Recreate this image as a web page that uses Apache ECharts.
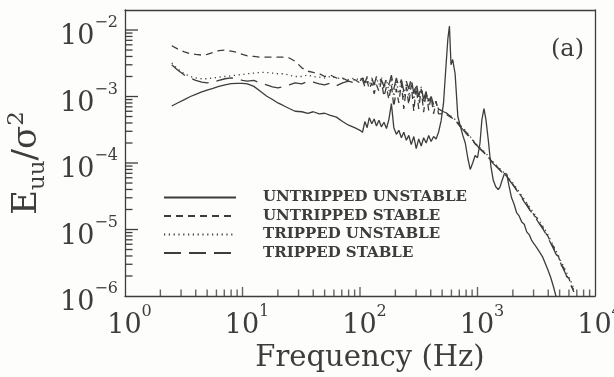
<!DOCTYPE html>
<html>
<head>
<meta charset="utf-8">
<script src="https://cdn.jsdelivr.net/npm/echarts@6/dist/echarts.min.js"></script>
<style>
  html, body { margin: 0; padding: 0; background: #fdfdfc; }
  #chart { width: 614px; height: 377px; }
</style>
</head>
<body>
<div id="chart"></div>
<script>
// Frequency bins (Hz) shared by the four spectra
const FREQ = [
  2.5, 2.8, 3.2, 3.6, 4.0, 4.5, 5.0, 5.6, 6.3, 7.1, 8.0,
  9, 10, 11, 12.5, 14, 16, 18, 20, 22, 25, 28,
  32, 36, 40, 45, 50, 56, 63, 71, 80, 90, 100,
  105, 110, 115, 120, 126, 132, 138, 145, 152, 160, 168,
  176, 185, 194, 204, 214, 225, 236, 248, 260, 273, 287,
  301, 316, 332, 348, 366, 384, 403, 423, 444, 466, 490,
  514, 540, 560, 577, 595, 615, 645, 680, 714, 750, 787,
  826, 867, 910, 955, 1000, 1050, 1090, 1135, 1180, 1236, 1300,
  1362, 1430, 1500, 1550, 1620, 1700, 1774, 1850, 1950, 2050, 2150,
  2260, 2380, 2500, 2624, 2760, 2900, 3050, 3200, 3400, 3600, 3800,
  4000, 4200, 4420, 4650, 4900, 5150, 5400, 5700, 6000, 6300, 6600
];

// Normalised spectra E_uu / sigma^2
const UNTRIPPED_UNSTABLE = [
  7.2e-4, 8.0e-4, 9.0e-4, 1.0e-3, 1.08e-3, 1.17e-3, 1.25e-3, 1.33e-3, 1.42e-3, 1.5e-3, 1.56e-3,
  1.58e-3, 1.58e-3, 1.55e-3, 1.42e-3, 1.22e-3, 1.02e-3, 9.0e-4, 8.0e-4, 7.4e-4, 6.6e-4, 6.0e-4,
  5.9e-4, 5.6e-4, 5.9e-4, 5.5e-4, 5.6e-4, 5.2e-4, 4.9e-4, 4.2e-4, 3.7e-4, 3.4e-4, 3.1e-4,
  2.9e-4, 4.2e-4, 3.4e-4, 4.8e-4, 3.9e-4, 4.6e-4, 3.6e-4, 4.4e-4, 3.5e-4, 4.1e-4, 3.3e-4,
  4.5e-4, 7.8e-4, 3.4e-4, 2.7e-4, 3.1e-4, 2.4e-4, 2.9e-4, 2.2e-4, 2.6e-4, 1.9e-4, 2.5e-4,
  1.65e-4, 2.3e-4, 1.8e-4, 2.4e-4, 2.0e-4, 2.6e-4, 2.1e-4, 2.5e-4, 2.3e-4, 2.9e-4, 4.3e-4,
  8.0e-4, 3.0e-3, 7.5e-3, 1.15e-2, 3.0e-3, 3.6e-3, 2.2e-3, 5.0e-4, 3.6e-4, 2.6e-4, 2.0e-4,
  1.2e-4, 8.0e-5, 1.0e-4, 1.3e-4, 1.2e-4, 2.0e-4, 4.5e-4, 6.6e-4, 4.5e-4, 2.2e-4, 9.0e-5,
  5.5e-5, 4.4e-5, 4.0e-5, 4.3e-5, 5.5e-5, 7.0e-5, 6.8e-5, 4.6e-5, 3.0e-5, 2.4e-5, 1.8e-5,
  1.6e-5, 1.3e-5, 1.2e-5, 9.2e-6, 8.3e-6, 6.8e-6, 6.0e-6, 5.3e-6, 4.5e-6, 3.8e-6, 3.0e-6,
  2.4e-6, 1.9e-6, 1.4e-6, 1.0e-6, 7.0e-7, null, null, null, null, null, null
];
const UNTRIPPED_STABLE = [
  5.8e-3, 5.2e-3, 4.7e-3, 4.4e-3, 4.3e-3, 4.2e-3, 4.3e-3, 4.6e-3, 4.9e-3, 5.0e-3, 4.8e-3,
  4.6e-3, 4.3e-3, 4.1e-3, 4.0e-3, 3.9e-3, 3.9e-3, 3.9e-3, 3.9e-3, 3.9e-3, 3.8e-3, 3.4e-3,
  2.7e-3, 2.4e-3, 2.3e-3, 2.2e-3, 2.0e-3, 2.1e-3, 1.9e-3, 1.9e-3, 1.7e-3, 1.8e-3, 1.6e-3,
  1.8e-3, 1.4e-3, 1.7e-3, 1.3e-3, 1.6e-3, 1.1e-3, 1.5e-3, 1.2e-3, 1.7e-3, 1.0e-3, 1.4e-3,
  9.0e-4, 1.5e-3, 7.0e-4, 1.3e-3, 8.0e-4, 1.6e-3, 6.5e-4, 1.4e-3, 7.5e-4, 1.5e-3, 6.0e-4,
  1.4e-3, 6.5e-4, 1.3e-3, 5.8e-4, 1.2e-3, 6.2e-4, 1.0e-3, 5.5e-4, 8.5e-4, 5.5e-4, 5.5e-4,
  5.6e-4, 5.4e-4, 5.2e-4, 5.0e-4, 4.9e-4, 4.7e-4, 4.4e-4, 4.0e-4, 3.6e-4, 3.3e-4, 3.0e-4,
  2.7e-4, 2.4e-4, 2.2e-4, 1.95e-4, 1.8e-4, 1.65e-4, 1.55e-4, 1.45e-4, 1.35e-4, 1.22e-4, 1.1e-4,
  1.0e-4, 9.2e-5, 8.4e-5, 7.9e-5, 7.3e-5, 6.8e-5, 6.3e-5, 5.7e-5, 5.1e-5, 4.5e-5, 4.0e-5,
  3.5e-5, 3.1e-5, 2.65e-5, 2.45e-5, 2.05e-5, 1.9e-5, 1.6e-5, 1.5e-5, 1.2e-5, 1.08e-5, 8.8e-6,
  7.8e-6, 6.2e-6, 5.6e-6, 4.3e-6, 3.9e-6, 2.9e-6, 2.7e-6, 2.0e-6, 1.85e-6, 1.4e-6, 1.25e-6
];
const TRIPPED_UNSTABLE = [
  3.2e-3, 2.6e-3, 2.2e-3, 2.0e-3, 1.9e-3, 1.85e-3, 1.85e-3, 1.9e-3, 1.95e-3, 2.0e-3, 2.05e-3,
  2.1e-3, 2.15e-3, 2.2e-3, 2.25e-3, 2.3e-3, 2.3e-3, 2.25e-3, 2.2e-3, 2.2e-3, 2.1e-3, 2.0e-3,
  2.0e-3, 2.1e-3, 2.0e-3, 1.95e-3, 1.9e-3, 2.0e-3, 1.9e-3, 1.85e-3, 1.8e-3, 1.9e-3, 1.75e-3,
  2.0e-3, 1.6e-3, 1.9e-3, 1.5e-3, 1.8e-3, 1.4e-3, 1.9e-3, 1.5e-3, 2.0e-3, 1.3e-3, 1.8e-3,
  1.2e-3, 1.9e-3, 1.0e-3, 1.7e-3, 1.1e-3, 1.8e-3, 9.5e-4, 1.6e-3, 1.0e-3, 1.7e-3, 9.0e-4,
  1.5e-3, 8.5e-4, 1.4e-3, 8.0e-4, 1.2e-3, 7.5e-4, 1.0e-3, 7.0e-4, 8.5e-4, 6.2e-4, 6.0e-4,
  5.8e-4, 5.6e-4, 5.4e-4, 5.3e-4, 5.1e-4, 4.8e-4, 4.5e-4, 4.1e-4, 3.7e-4, 3.4e-4, 3.1e-4,
  2.8e-4, 2.5e-4, 2.25e-4, 2.0e-4, 1.85e-4, 1.7e-4, 1.6e-4, 1.5e-4, 1.4e-4, 1.27e-4, 1.14e-4,
  1.04e-4, 9.5e-5, 8.7e-5, 8.2e-5, 7.6e-5, 7.0e-5, 6.6e-5, 5.9e-5, 5.3e-5, 4.7e-5, 4.2e-5,
  3.7e-5, 3.2e-5, 2.85e-5, 2.5e-5, 2.2e-5, 1.95e-5, 1.72e-5, 1.52e-5, 1.3e-5, 1.12e-5, 9.6e-6,
  8.2e-6, 6.8e-6, 5.8e-6, 4.8e-6, 4.0e-6, 3.3e-6, 2.8e-6, 2.3e-6, 1.9e-6, 1.6e-6, 1.3e-6
];
const TRIPPED_STABLE = [
  3.0e-3, 2.5e-3, 2.1e-3, 1.9e-3, 1.75e-3, 1.65e-3, 1.6e-3, 1.65e-3, 1.75e-3, 1.85e-3, 1.9e-3,
  1.85e-3, 1.75e-3, 1.7e-3, 1.75e-3, 1.6e-3, 1.5e-3, 1.4e-3, 1.35e-3, 1.4e-3, 1.5e-3, 1.6e-3,
  1.55e-3, 1.7e-3, 1.65e-3, 1.55e-3, 1.5e-3, 1.6e-3, 1.45e-3, 1.6e-3, 1.7e-3, 1.6e-3, 1.7e-3,
  1.9e-3, 1.6e-3, 2.0e-3, 1.7e-3, 1.9e-3, 1.5e-3, 2.0e-3, 1.6e-3, 1.8e-3, 1.4e-3, 1.9e-3,
  1.5e-3, 2.1e-3, 1.3e-3, 1.9e-3, 1.4e-3, 1.8e-3, 1.2e-3, 1.7e-3, 1.3e-3, 1.9e-3, 1.1e-3,
  1.6e-3, 1.0e-3, 1.4e-3, 9.0e-4, 1.2e-3, 8.5e-4, 1.0e-3, 7.5e-4, 8.0e-4, 6.5e-4, 6.2e-4,
  5.9e-4, 5.7e-4, 5.5e-4, 5.2e-4, 5.3e-4, 4.7e-4, 4.4e-4, 3.9e-4, 3.5e-4, 3.2e-4, 2.9e-4,
  2.6e-4, 2.35e-4, 2.15e-4, 1.95e-4, 1.8e-4, 1.62e-4, 1.55e-4, 1.42e-4, 1.32e-4, 1.2e-4, 1.08e-4,
  9.8e-5, 9.0e-5, 8.3e-5, 7.8e-5, 7.2e-5, 6.7e-5, 6.2e-5, 5.6e-5, 5.0e-5, 4.4e-5, 3.9e-5,
  3.4e-5, 3.0e-5, 2.6e-5, 2.3e-5, 2.0e-5, 1.8e-5, 1.6e-5, 1.4e-5, 1.18e-5, 1.02e-5, 8.7e-6,
  7.4e-6, 6.2e-6, 5.2e-6, 4.3e-6, 3.6e-6, 3.0e-6, 2.5e-6, 2.05e-6, 1.7e-6, 1.4e-6, 1.15e-6
];

const SERIES_NAMES = ['UNTRIPPED UNSTABLE', 'UNTRIPPED STABLE', 'TRIPPED UNSTABLE', 'TRIPPED STABLE'];
const SERIES_VALUES = [UNTRIPPED_UNSTABLE, UNTRIPPED_STABLE, TRIPPED_UNSTABLE, TRIPPED_STABLE];
const SERIES_DASH = ['solid', [7, 5], [1.2, 3.6], [17, 8]];

const X_MIN = 1, X_MAX = 1e4;
const Y_MIN = 1e-6, Y_MAX = 2e-2;
const X_TITLE = 'Frequency (Hz)';
const PANEL_TAG = '(a)';

const INK = '#3d3d3d';
const SERIF = '"DejaVu Serif", "Liberation Serif", serif';

// tick positions: decades (major) and 2..9 multiples (minor)
function logTicks(lo, hi) {
  const out = [];
  for (let d = Math.floor(Math.log10(lo)); d <= Math.ceil(Math.log10(hi)); d++) {
    for (let m = 1; m <= 9; m++) {
      const v = m * Math.pow(10, d);
      if (v >= lo * 0.999 && v <= hi * 1.001) out.push({ v, major: m === 1 });
    }
  }
  return out;
}
const X_TICKS = logTicks(X_MIN, X_MAX).filter(t => t.v > X_MIN && t.v < X_MAX);
const Y_TICKS = logTicks(Y_MIN, 1e-2).filter(t => t.v > Y_MIN);

function powerLabel(v) {
  const e = Math.log10(v);
  if (Math.abs(e - Math.round(e)) > 1e-6) return '';
  return '{b|10}{s|' + String(Math.round(e)).replace('-', '\u2212') + '}';
}

const chart = echarts.init(document.getElementById('chart'), null, { renderer: 'canvas' });

const lineSeries = SERIES_NAMES.map((name, k) => ({
  name,
  type: 'line',
  symbol: 'none',
  showSymbol: false,
  connectNulls: false,
  clip: true,
  lineStyle: { color: INK, width: 1.3, type: SERIES_DASH[k] },
  // no point markers anywhere, so the legend sample shows only the line
  itemStyle: { color: 'rgba(0,0,0,0)' },
  data: FREQ.map((f, i) => [f, SERIES_VALUES[k][i]])
}));

// inward tick marks along the frequency axis
const TICK_W = 1.4;
const xTickSeries = {
  name: 'xTicks',
  type: 'scatter', clip: false, z: 5,
  itemStyle: { color: INK },
  data: X_TICKS.map(t => {
    const len = t.major ? 9 : 6.5;
    return { value: [t.v, Y_MIN], symbol: 'rect', symbolSize: [TICK_W, len], symbolOffset: [0, -len / 2] };
  })
};

const labelRich = {
  b: { fontFamily: SERIF, fontSize: 27, color: INK, lineHeight: 44 },
  s: { fontFamily: SERIF, fontSize: 16, color: INK, verticalAlign: 'top', lineHeight: 16 }
};

const frameAxis = {
  type: 'log', logBase: 10,
  axisLine: { show: true, lineStyle: { color: INK, width: 1.3 } },
  axisTick: { show: false }, axisLabel: { show: false }, splitLine: { show: false }
};

const option = {
  backgroundColor: '#fdfdfc',
  animation: false,
  title: {
    text: PANEL_TAG,
    left: 546, top: 33,
    textStyle: { fontFamily: SERIF, fontSize: 24, fontWeight: 'normal', color: INK }
  },
  grid: { left: 125, right: 19, top: 10, bottom: 81, show: false, outerBoundsMode: 'none', containLabel: false },
  legend: {
    data: SERIES_NAMES,
    orient: 'vertical',
    left: 158, top: 180,
    itemWidth: 72, itemHeight: 12, itemGap: -6.5,
    selectedMode: false,
    textStyle: {
      fontFamily: SERIF, fontSize: 15, fontWeight: 'bold', color: INK,
      lineHeight: 13, padding: [12, 0, 0, 22]
    }
  },
  xAxis: [{
    type: 'log', logBase: 10, min: X_MIN, max: X_MAX,
    name: X_TITLE, nameLocation: 'middle', nameGap: 47,
    nameTextStyle: { fontFamily: SERIF, fontSize: 29, color: INK, padding: [0, 0, 0, 20] },
    axisLine: { show: true, lineStyle: { color: INK, width: 1.3 } },
    axisTick: { show: false },
    splitLine: { show: false },
    axisLabel: {
      margin: 8,
      formatter: v => { const s = powerLabel(v); return s ? '{sp|}' + s : ''; },
      rich: Object.assign({ sp: { width: 9 } }, labelRich)
    }
  }, Object.assign({ position: 'top', min: X_MIN, max: X_MAX }, frameAxis)],
  yAxis: [{
    type: 'log', logBase: 10, min: Y_MIN, max: Y_MAX,
    name: '{e|E}{sub|uu}{e|/σ}{sup|2}{gap|\u00a0}',
    nameLocation: 'middle', nameRotate: 90, nameGap: 72,
    nameTextStyle: {
      rich: {
        e: { fontFamily: SERIF, fontSize: 34, color: INK, lineHeight: 44 },
        sub: { fontFamily: SERIF, fontSize: 23, color: INK, verticalAlign: 'bottom', lineHeight: 24 },
        sup: { fontFamily: SERIF, fontSize: 23, color: INK, verticalAlign: 'top', lineHeight: 24 },
        gap: { fontFamily: SERIF, fontSize: 20, width: 20 }
      }
    },
    axisLine: { show: true, lineStyle: { color: INK, width: 1.3 } },
    axisTick: { show: false },
    splitLine: { show: false },
    axisLabel: {
      margin: 7,
      padding: [14, 0, 0, 0],
      formatter: powerLabel,
      rich: labelRich
    }
  }, Object.assign({ position: 'right', min: Y_MIN, max: Y_MAX }, frameAxis)],
  series: lineSeries.concat([xTickSeries])
};

chart.setOption(option);

// inward tick marks along the spectrum axis, placed through the chart's own
// value-to-pixel conversion and kept above everything else
const yTickMarks = Y_TICKS.map(t => {
  const p = chart.convertToPixel({ xAxisIndex: 0, yAxisIndex: 0 }, [X_MIN, t.v]);
  const len = t.major ? 13 : 7.5;
  return {
    type: 'line',
    z: 100,
    silent: true,
    shape: { x1: p[0], y1: p[1], x2: p[0] + len, y2: p[1] },
    style: { stroke: INK, lineWidth: 1.3 }
  };
});
chart.setOption({ graphic: { elements: yTickMarks } });
</script>
</body>
</html>
